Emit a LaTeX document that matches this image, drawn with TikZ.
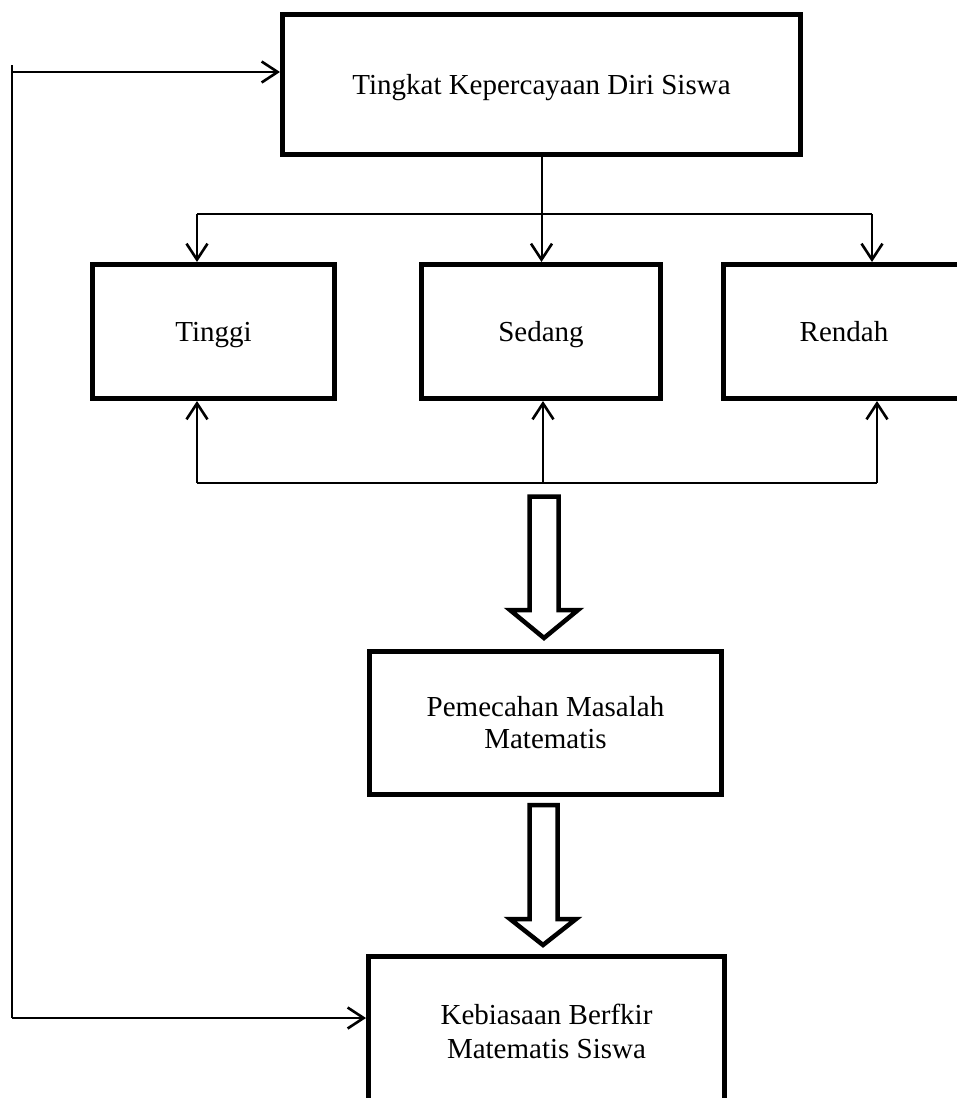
\documentclass[tikz,border=0pt]{standalone}
\usepackage{fontspec}
\setmainfont{Liberation Serif}
\usetikzlibrary{arrows.meta,calc}
\begin{document}
\begin{tikzpicture}[x=1pt,y=-1pt,
  box/.style={draw,line width=5pt,inner sep=0pt,align=center,
    font=\fontsize{29}{32}\selectfont},
  onebox/.style={box,text height=19.5pt,text depth=0pt},
  conn/.style={line width=2pt},
  arr/.style={conn,-{Straight Barb[length=16pt,width=21pt,line width=2.6pt]}},
  blockarrow/.style={draw,line width=4.5pt,fill=white,miter limit=10}]
\useasboundingbox (0,0) rectangle (957,1098);
\clip (0,0) rectangle (957,1098);

\node[onebox,minimum width=518pt,minimum height=140pt] (top) at (541.5,84.5) {Tingkat Kepercayaan Diri Siswa};
\node[onebox,minimum width=242pt,minimum height=134pt] (tinggi) at (213.5,331.5) {Tinggi};
\node[onebox,minimum width=239pt,minimum height=134pt] (sedang) at (541,331.5) {Sedang};
\node[onebox,minimum width=241pt,minimum height=134pt] (rendah) at (844,331.5) {Rendah};
\node[box,minimum width=352pt,minimum height=143pt] (pemecahan) at (545.5,723) {Pemecahan Masalah\\Matematis};
\node[box,font=\fontsize{29}{34}\selectfont,minimum width=356pt,minimum height=150pt] (kebiasaan) at (546.5,1031) {Kebiasaan Berfkir\\Matematis Siswa};

% split from top box
\coordinate (jM) at (541.5,214);
\coordinate (jL) at (197,214);
\coordinate (jR) at (872,214);
\draw[conn] (top.south) -- (jM);
\draw[conn] (jL) -- (jR);
\draw[arr] (jL) -- (jL |- tinggi.north);
\draw[arr] (jM) -- (jM |- sedang.north);
\draw[arr] (jR) -- (jR |- rendah.north);

% join below
\coordinate (bL) at (197,483);
\coordinate (bM) at (543,483);
\coordinate (bR) at (877,483);
\draw[conn] (bL) -- (bR);
\draw[arr] (bL) -- (bL |- tinggi.south);
\draw[arr] (bM) -- (bM |- sedang.south);
\draw[arr] (bR) -- (bR |- rendah.south);

% block arrows
\draw[blockarrow] (529.5,496.5) -- (558.5,496.5) -- (558.5,610) -- (578,610) -- (544,638) -- (510,610) -- (529.5,610) -- cycle;
\draw[blockarrow] (529.5,805) -- (557.5,805) -- (557.5,919) -- (576,919) -- (543,945) -- (510,919) -- (529.5,919) -- cycle;

% left feedback line
\coordinate (lt) at (12,72);
\coordinate (lb) at (12,1018);
\draw[conn] (12,65) -- (lb);
\draw[arr] (lt) -- (lt -| top.west);
\draw[arr] (lb) -- (lb -| kebiasaan.west);
\end{tikzpicture}
\end{document}
